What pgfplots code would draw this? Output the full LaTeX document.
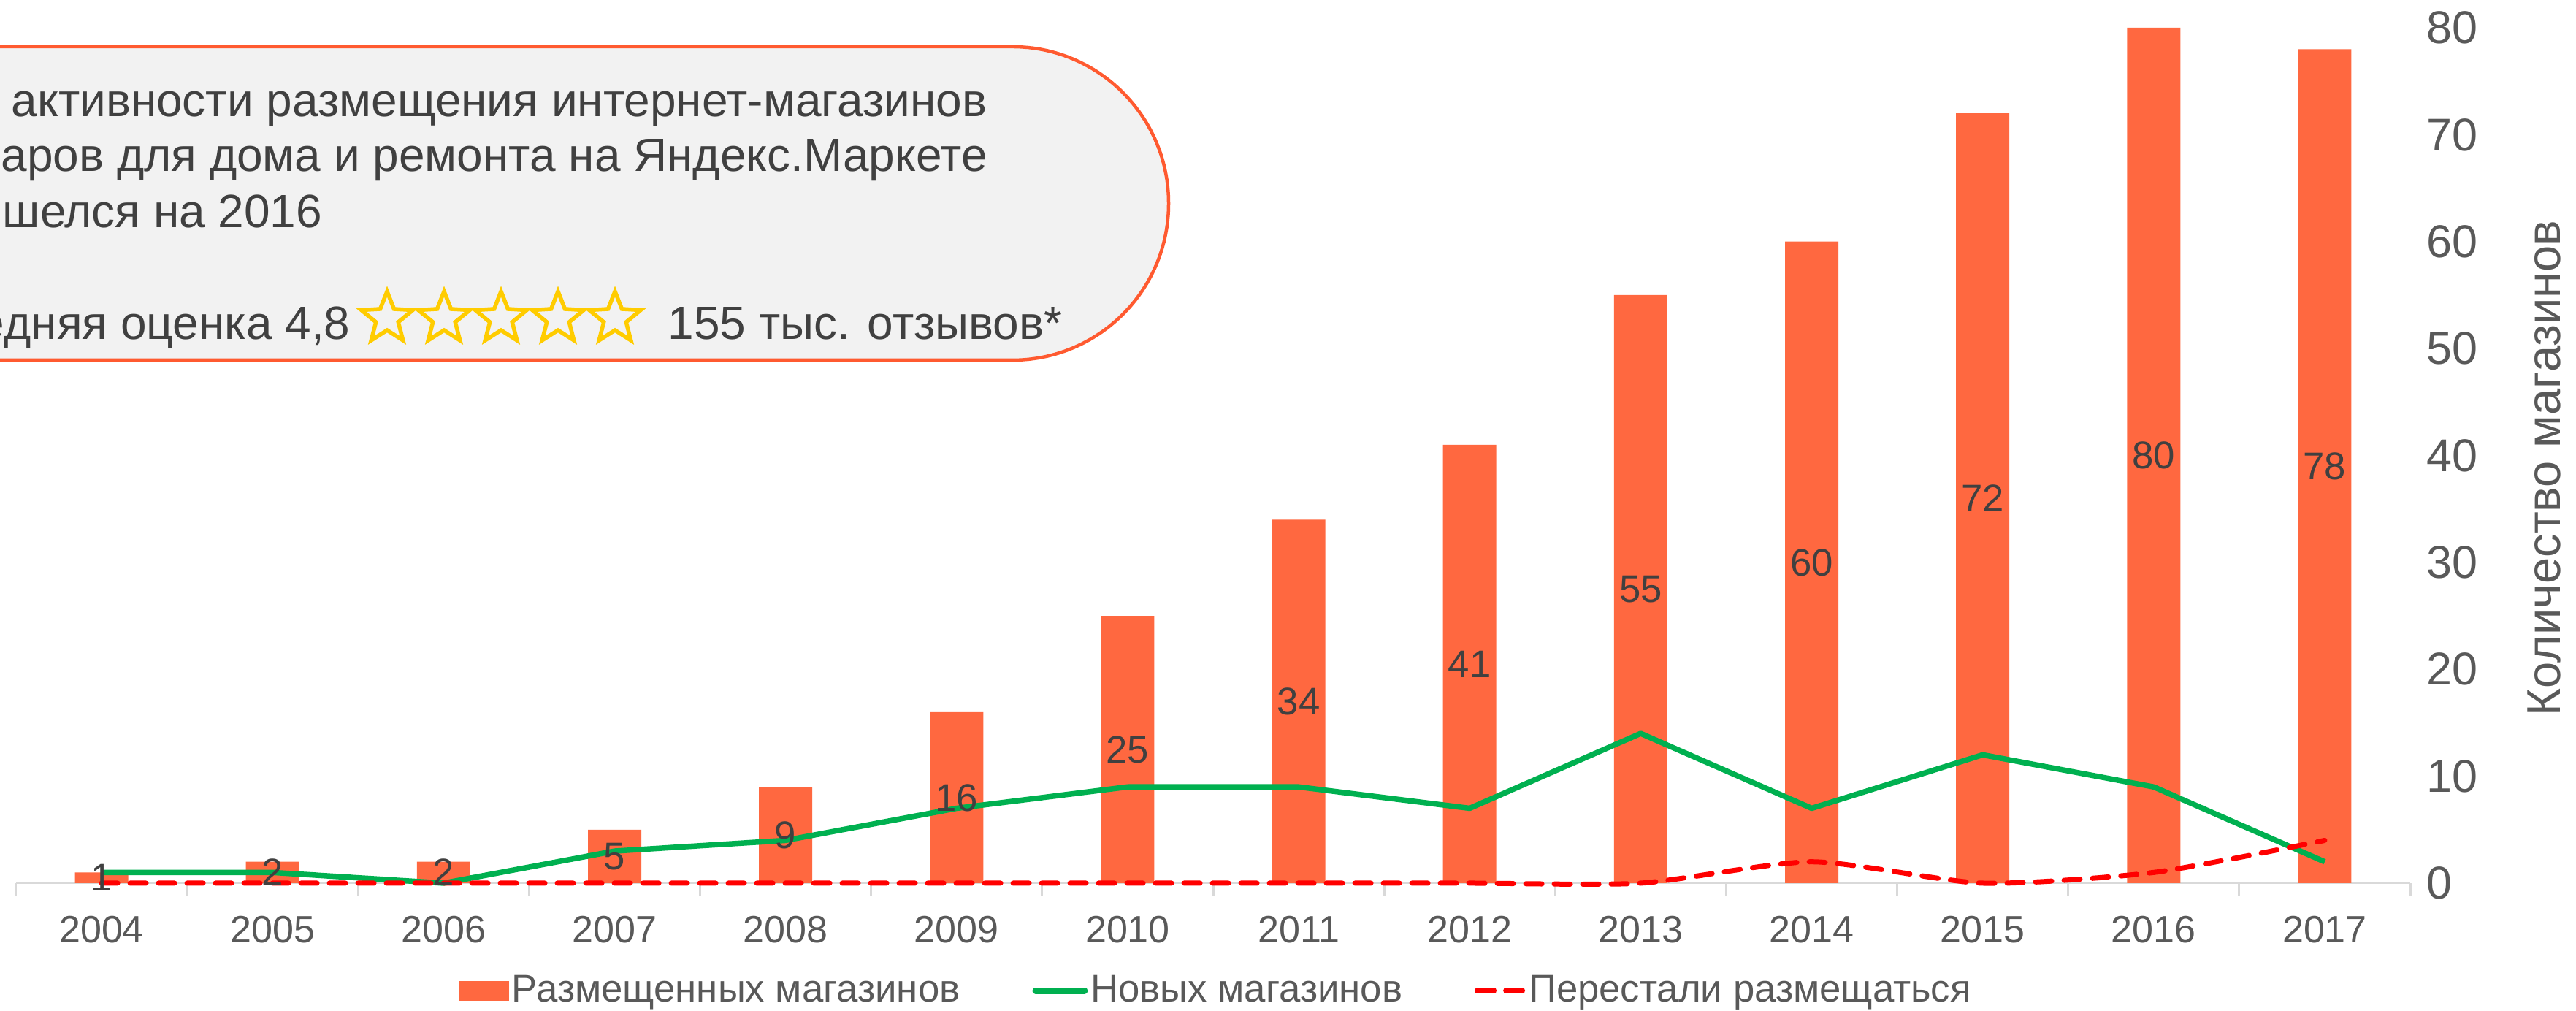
\documentclass[border=0pt]{standalone}
\usepackage{fontspec}
\setmainfont{Liberation Sans}
\usepackage{pgfplots}
\pgfplotsset{compat=1.18}
\usepackage{pgfplotstable}
\usetikzlibrary{shapes.geometric}
\definecolor{barC}{HTML}{FF6840}
\definecolor{greenC}{HTML}{00B050}
\definecolor{redC}{HTML}{FF0000}
\definecolor{tickC}{HTML}{595959}
\definecolor{lblC}{HTML}{404040}
\definecolor{axC}{HTML}{D9D9D9}
\definecolor{boxFill}{HTML}{F2F2F2}
\definecolor{boxLine}{HTML}{FF5A30}
\definecolor{starC}{HTML}{FFCC00}
\newcommand\fs[1]{\fontsize{#1}{#1}\selectfont}

\pgfplotstableread{
x bar new gone mid
0 1 1 0 0.5
1 2 1 0 1
2 2 0 0 1
3 5 3 0 2.5
4 9 4 0 4.5
5 16 7 0 8
6 25 9 0 12.5
7 34 9 0 17
8 41 7 0 20.5
9 55 14 0 27.5
10 60 7 2 30
11 72 12 0 36
12 80 9 1 40
13 78 2 4 39
}\data

\begin{document}
\begin{tikzpicture}
\useasboundingbox (0,0) rectangle (352.7mm,138.4mm);
\begin{scope}
\clip (0,0) rectangle (352.7mm,138.4mm);
\draw[fill=boxFill, draw=boxLine, line width=0.45mm, rounded corners=21.4mm] (-60mm,89.1mm) rectangle (160mm,132.0mm);
\node[anchor=base west, inner sep=0pt, text=lblC, font=\fs{18.2pt}] at (1.5mm,122.4mm) {\llap{Пик }активности размещения интернет-магазинов};
\node[anchor=base west, inner sep=0pt, text=lblC, font=\fs{18.2pt}] at (0.1mm,114.9mm) {\llap{тов}аров для дома и ремонта на Яндекс.Маркете};
\node[anchor=base west, inner sep=0pt, text=lblC, font=\fs{18.2pt}] at (0.3mm,107.2mm) {\llap{при}шелся на 2016};
\node[anchor=base west, inner sep=0pt, text=lblC, font=\fs{18.2pt}] at (0.5mm,91.9mm) {\llap{Сре}дняя оценка 4,8};
\foreach \sx in {53.0,60.8,68.6,76.4,84.2}{
  \node[star, star points=5, star point ratio=2.3, minimum size=7.4mm, inner sep=0pt,
        draw=starC, line width=0.55mm, line join=miter] at (\sx mm,94.8mm) {};
}
\node[anchor=base west, inner sep=0pt, text=lblC, font=\fs{18.2pt}] at (91.4mm,91.9mm) {155 тыс. отзывов*};
\end{scope}
\begin{axis}[
  at={(2.2mm,17.5mm)}, anchor=south west,
  scale only axis, width=327.8mm, height=117.1mm,
  xmin=-0.5, xmax=13.5, ymin=0, ymax=80,
  clip=false,
  /pgf/number format/assume math mode=true,
  axis x line*=bottom, axis y line*=right,
  x axis line style={draw=axC, line width=0.3mm},
  y axis line style={draw=none},
  tick align=outside,
  xtick={0,...,13},
  xticklabels={2004,2005,2006,2007,2008,2009,2010,2011,2012,2013,2014,2015,2016,2017},
  minor xtick={-0.5,0.5,...,13.5},
  major tick length=0pt, minor tick length=1.7mm,
  every minor tick/.append style={draw=axC, line width=0.3mm},
  xticklabel style={font=\fs{14.8pt}, text=tickC, anchor=north, inner sep=0pt, yshift=-4.4mm},
  ytick={0,10,20,30,40,50,60,70,80},
  yticklabels={0,10,20,30,40,50,60,70,80},
  yticklabel style={font=\fs{17.9pt}, text=tickC, anchor=west, inner sep=0pt, xshift=2.2mm},
  ylabel={Количество магазинов},
  every axis y label/.style={at={(axis description cs:1.0558,0.485)}, anchor=center, rotate=90, font=\fs{18.5pt}, text=tickC},
  legend style={at={(0.5015,-0.1259)}, anchor=center, draw=none, fill=none,
    legend columns=-1, font=\fs{15pt}, text=tickC,
    /tikz/every even column/.append style={column sep=9.5mm},
    nodes={inner sep=0.4mm, text depth=0.15em}},
]
\addplot[ybar, bar width=7.3mm, fill=barC, draw=none,
  legend image code/.code={\fill[barC] (0mm,-1.35mm) rectangle (6.8mm,1.35mm);}]
  table[x=x, y=bar]{\data};
\addlegendentry{Размещенных магазинов}
\addplot[greenC, line width=0.75mm, line join=round, mark=none,
  legend image code/.code={\draw[greenC, line width=0.9mm, line cap=round] (0.4mm,0)--(7.1mm,0);}]
  table[x=x, y=new]{\data};
\addlegendentry{Новых магазинов}
\addplot[redC, line width=0.7mm, dash pattern=on 2.2mm off 1.7mm, line cap=round, mark=none, smooth, tension=0.4,
  legend image code/.code={\draw[redC, line width=0.8mm, line cap=round, dash pattern=on 2.2mm off 1.7mm] (0.4mm,0)--(6.6mm,0);}]
  table[x=x, y=gone]{\data};
\addlegendentry{Перестали размещаться}
\addplot[only marks, mark=*, mark size=0pt, mark options={draw=none, fill=none}, forget plot,
  nodes near coords, point meta=explicit,
  every node near coord/.append style={anchor=center, font=\fs{15pt}, text=lblC, inner sep=0pt}]
  table[x=x, y=mid, meta=bar]{\data};
\end{axis}
\end{tikzpicture}
\end{document}
